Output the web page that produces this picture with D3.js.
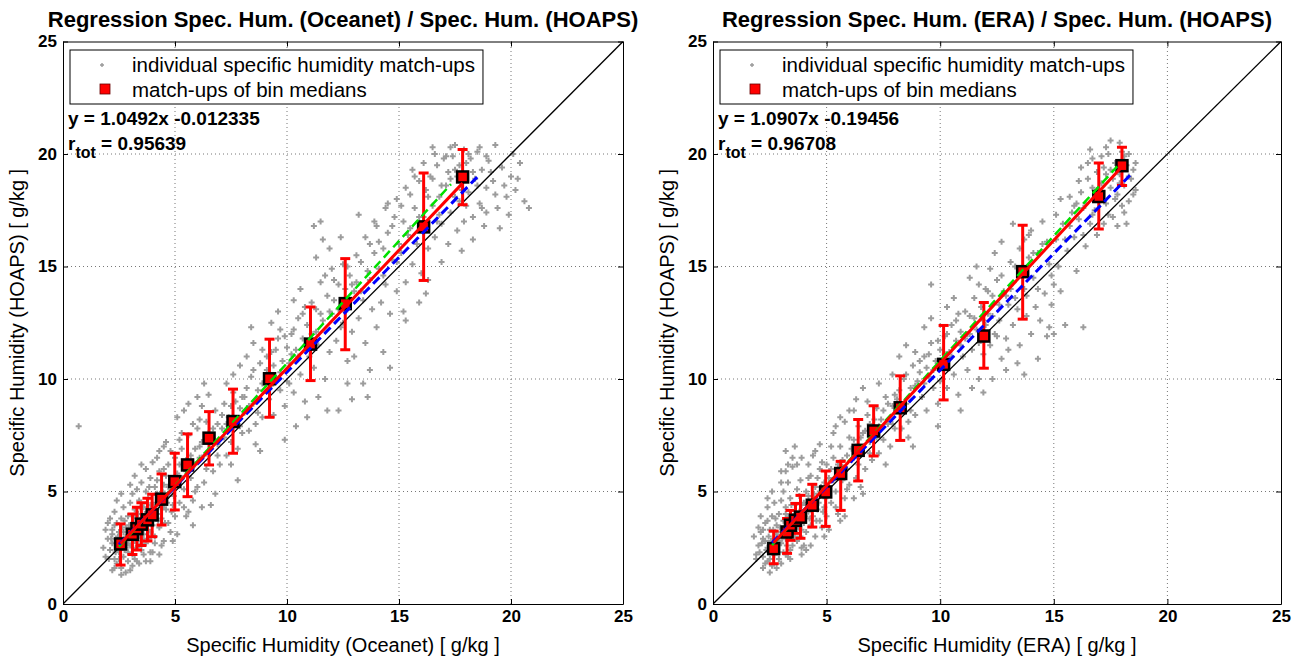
<!DOCTYPE html>
<html>
<head>
<meta charset="utf-8">
<script src="https://cdn.jsdelivr.net/npm/d3@7"></script>
<style>
body { margin: 0; background: #fff; }
text { font-family: "Liberation Sans", Arial, sans-serif; }
</style>
</head>
<body>
<svg id="chart" width="1311" height="661"></svg>
<script>
// tick values (both axes, both panels)
var tickValues = [0, 5, 10, 15, 20, 25];

// --- Oceanet vs HOAPS ---
var oceanetPoints = [
  [2.1,2.4],[2.2,3.1],[2.3,2.0],[2.3,3.5],[2.4,2.7],[2.4,1.8],[2.5,3.2],[2.5,2.3],[2.6,3.8],[2.6,1.6],[2.7,2.9],[2.7,2.1],[2.8,3.4],[2.8,2.5],[2.9,3.9],[2.9,1.9],[3.0,3.1],[3.0,2.6],[2.2,2.7],[2.4,3.6],[2.6,2.6],[2.8,3.0],[2.5,2.0],[2.9,2.3],[2.0,2.9],[1.9,3.3],[2.1,3.8],[2.3,4.1],[2.7,4.3],[2.6,1.3],
  [2.15,2.9],[2.35,2.3],[2.45,3.0],[2.55,2.8],[2.65,3.4],[2.75,2.4],[2.85,2.8],[2.95,3.5],[3.05,2.9],[3.15,3.2],[3.25,2.5],[3.35,4.0],[3.45,3.3],[3.55,3.5],[3.65,4.0],[3.75,3.3],[3.85,2.9],[3.95,4.2],[4.05,3.9],[4.15,4.5],[4.25,3.7],[4.35,4.3],[4.45,5.0],[4.55,3.6],[4.65,4.5],[4.75,5.3],[4.85,4.1],[4.95,4.8],[2.3,1.6],[2.05,2.0],[3.1,4.9],[3.45,4.3],[3.85,5.2],[4.2,5.5],[4.5,6.0],[2.75,3.7],[3.2,2.0],[3.6,2.2],[4.1,2.7],[1.8,2.5],
  [3.1,3.6],[3.1,2.2],[3.2,4.2],[3.2,2.8],[3.3,3.3],[3.3,1.9],[3.4,4.6],[3.4,3.0],[3.5,3.8],[3.5,2.4],[3.6,4.3],[3.6,3.1],[3.7,5.0],[3.7,2.7],[3.8,3.6],[3.8,4.7],[3.9,3.2],[3.9,2.3],[4.0,4.4],[4.0,3.5],[3.2,3.9],[3.4,3.5],[3.6,2.9],[3.8,4.0],[3.0,4.5],[3.3,5.1],[3.5,5.4],[3.9,5.6],[3.7,1.9],[3.1,1.7],[3.4,2.6],[3.6,3.7],
  [4.1,5.2],[4.1,3.0],[4.2,4.0],[4.3,5.9],[4.3,3.4],[4.4,4.7],[4.5,2.8],[4.5,5.3],[4.6,4.2],[4.7,6.2],[4.7,3.6],[4.8,5.0],[4.9,4.4],[5.0,6.5],[5.0,3.9],[4.2,4.9],[4.4,3.8],[4.6,5.7],[4.8,3.2],[4.9,5.5],[4.0,6.3],[4.3,6.8],[4.6,7.2],[4.4,2.6],[4.7,4.8],
  [5.1,5.8],[5.2,4.5],[5.3,6.9],[5.4,5.1],[5.5,3.9],[5.5,6.4],[5.6,7.5],[5.7,5.6],[5.8,4.6],[5.9,6.9],[6.0,5.2],[6.0,7.8],[5.2,6.2],[5.4,4.3],[5.7,6.1],[5.9,5.0],[5.3,7.6],[5.1,8.3],[5.6,4.1],[5.8,8.0],
  [6.1,6.5],[6.2,7.2],[6.3,5.4],[6.4,8.1],[6.5,6.8],[6.6,7.5],[6.7,5.9],[6.8,8.6],[6.9,7.1],[7.0,6.2],[6.2,8.8],[6.5,9.3],[6.8,4.9],[6.4,6.0],[6.9,8.0],[6.1,8.2],[0.7,7.9],
  [7.1,7.8],[7.2,8.9],[7.3,6.6],[7.4,8.3],[7.5,7.2],[7.6,9.4],[7.7,8.0],[7.8,6.9],[7.9,8.7],[8.0,7.6],[7.3,9.8],[7.6,10.2],[7.9,10.6],[7.5,6.2],[7.8,5.5],[7.2,7.4],[8.0,9.2],
  [8.1,8.5],[8.2,9.6],[8.3,7.7],[8.4,10.1],[8.5,8.9],[8.6,7.1],[8.7,9.5],[8.8,10.7],[8.9,8.3],[9.0,9.9],[8.2,11.0],[8.5,11.6],[8.8,6.8],[8.4,12.3],[8.9,11.3],[8.6,8.0],
  [9.1,10.4],[9.2,9.1],[9.3,11.2],[9.4,8.4],[9.5,10.0],[9.6,11.8],[9.7,9.5],[9.8,10.8],[9.9,8.8],[10.0,11.4],[9.3,12.5],[9.6,13.0],[9.9,7.3],[9.4,10.6],[10.0,9.9],[9.7,12.2],
  [10.1,10.7],[10.2,12.0],[10.3,9.4],[10.4,11.3],[10.5,12.7],[10.6,10.2],[10.7,11.8],[10.8,9.0],[10.9,12.4],[11.0,11.0],[10.3,13.5],[10.6,14.0],[10.9,8.3],[10.4,7.9],[10.8,13.2],[10.2,11.1],
  [11.1,12.0],[11.2,10.5],[11.3,13.1],[11.4,11.5],[11.5,14.3],[11.6,12.6],[11.7,10.0],[11.8,13.7],[11.9,11.2],[12.0,12.9],[11.3,15.4],[11.6,16.2],[11.9,15.8],[11.4,9.2],[11.8,8.6],[12.0,14.9],[11.2,16.8],[11.5,17.0],
  [12.1,13.5],[12.2,11.7],[12.3,14.2],[12.4,12.3],[12.5,15.1],[12.6,13.0],[12.7,10.8],[12.8,14.6],[12.9,12.1],[13.0,13.9],[12.4,16.3],[12.7,9.8],[12.9,9.1],[12.3,8.6],[13.0,11.0],[12.6,14.0],
  [13.1,14.3],[13.2,12.7],[13.3,15.2],[13.4,13.5],[13.5,11.6],[13.6,14.8],[13.7,16.0],[13.8,13.1],[13.9,15.6],[14.0,12.3],[13.4,9.8],[13.7,10.4],[14.0,16.8],[13.2,17.3],[13.6,9.2],
  [14.1,14.9],[14.2,13.4],[14.3,15.8],[14.4,14.2],[14.5,16.5],[14.6,12.9],[14.7,15.3],[14.8,17.2],[14.9,13.9],[15.0,16.0],[14.3,11.2],[14.6,10.5],[14.9,18.0],[14.4,17.6],
  [15.1,15.6],[15.2,17.0],[15.3,14.3],[15.4,16.4],[15.5,18.2],[15.6,15.1],[15.7,17.6],[15.8,16.0],[15.9,18.8],[16.0,14.7],[15.3,12.6],[15.6,19.3],[15.9,13.4],[15.2,13.0],
  [16.1,17.2],[16.2,18.4],[16.3,15.8],[16.4,19.0],[16.5,17.7],[16.6,16.3],[16.7,19.5],[16.8,18.1],[16.9,16.9],[17.0,19.8],[16.3,14.4],[16.6,20.0],[16.9,15.2],[16.2,13.8],[16.5,18.9],[16.8,17.3],
  [17.1,18.6],[17.2,19.2],[17.3,17.4],[17.4,19.9],[17.5,18.1],[17.6,16.6],[17.7,19.5],[17.8,18.4],[17.9,20.2],[18.0,17.7],[17.2,16.0],[17.5,20.4],[17.8,15.7],[17.3,18.9],[17.6,19.0],[17.9,17.0],[18.0,19.6],
  [18.1,18.3],[18.2,19.8],[18.3,17.2],[18.4,18.9],[18.5,20.1],[18.6,17.8],[18.7,19.3],[18.8,16.8],[18.9,18.5],[19.0,19.7],[18.3,16.2],[18.6,20.3],[18.9,17.4],
  [19.2,18.8],[19.4,17.6],[19.6,19.4],[19.8,18.1],[20.0,19.0],[20.2,18.4],[20.4,19.6],[20.6,17.9],[20.8,17.6],[19.5,16.7],[20.1,20.0],[19.3,20.4],
  [1.9,2.1],[2.0,3.6],[2.2,1.5],[2.4,4.6],[2.6,4.9],[2.8,1.4],[3.0,5.3],[3.0,1.5],[3.2,5.7],[3.4,1.8],[3.5,6.2],[3.7,6.0],[3.9,1.9],[4.0,2.3],[4.2,6.5],[4.3,2.2],[4.5,7.0],[4.8,6.8],[4.9,2.8],[5.1,3.1],[5.2,7.3],[5.4,8.6],[5.6,8.9],[5.8,3.5],[6.0,9.2],[6.2,4.3],[6.3,9.8],[6.6,4.4],
  [2.2,3.3],[2.4,2.4],[2.7,3.2],[2.9,2.7],[3.1,3.0],[3.3,2.8],[3.5,3.2],[3.7,3.5],[3.9,4.4],[4.1,4.2],[4.3,4.6],[4.5,4.3],[4.7,5.2],[4.9,5.0],[5.1,5.3],[5.3,5.6],[5.5,5.9],[5.7,6.6],[5.9,6.2],[6.1,7.0],[6.3,6.6],[6.5,7.6],[6.7,7.8],[6.9,6.6],
  [7.1,8.4],[7.3,8.0],[7.5,8.8],[7.7,9.0],[7.9,7.9],[8.1,9.2],[8.3,8.8],[8.5,10.4],[8.7,8.5],[8.9,9.8],[9.1,11.0],[9.3,9.7],[9.5,11.3],[9.7,10.3],[9.9,11.9],[10.1,9.8],[10.3,12.2],[10.5,11.0],[10.7,12.9],[10.9,11.6],
  [11.1,13.4],[11.3,12.1],[11.5,12.9],[11.7,14.6],[11.9,13.0],[12.1,14.4],[12.3,13.1],[12.5,12.5],[12.7,15.0],[12.9,14.2],[13.1,15.5],[13.3,13.9],[13.5,16.3],[13.7,14.4],[13.9,17.0],[14.1,16.1],[14.3,14.6],[14.5,17.8],[14.7,16.8],[14.9,15.2],
  [15.1,17.7],[15.3,18.5],[15.5,16.7],[15.7,19.0],[15.9,17.2],[16.1,19.6],[16.3,18.1],[16.5,20.3],[16.7,17.0],[16.9,18.6],[17.1,19.9],[17.3,20.3],[17.5,19.3],[17.7,17.9],[17.9,18.9],[18.1,20.0],[18.3,19.2],[18.5,18.6],[18.7,17.6],[18.9,19.9],[19.1,19.2],[19.3,18.2],[19.7,18.6],[20.3,18.9],[19.9,17.3]
];
var oceanetBinX  = [2.57, 3.1, 3.3, 3.5, 3.77, 3.98, 4.40, 4.99, 5.56, 6.52, 7.59, 9.22, 11.05, 12.6, 16.1, 17.84];
var oceanetBinY  = [2.67, 3.1, 3.35, 3.55, 3.74, 3.96, 4.66, 5.44, 6.18, 7.37, 8.11, 10.01, 11.55, 13.35, 16.76, 18.98];
var oceanetBinLo = [1.73, 2.2, 2.4, 2.6, 2.8, 2.99, 3.51, 4.18, 4.77, 6.18, 6.70, 8.3, 9.93, 11.3, 14.38, 17.75];
var oceanetBinHi = [3.56, 4.0, 4.3, 4.5, 4.7, 4.88, 5.78, 6.70, 7.56, 8.55, 9.55, 11.77, 13.2, 15.35, 19.16, 20.2];
// [slope, intercept, xStart, xEnd]
var oceanetRedFit   = [1.0492, -0.012335, 2.57, 17.84];
var oceanetGreenFit = [1.087, -0.168, 2.5, 17.32];
var oceanetBlueFit  = [1.021, 0.096, 2.5, 18.51];
var oceanetR = "0.95639";

// --- ERA vs HOAPS ---
var eraPoints = [
  [2.0,2.6],[2.1,3.2],[2.2,2.1],[2.3,3.6],[2.3,2.8],[2.4,1.9],[2.5,3.3],[2.5,2.4],[2.6,3.9],[2.6,1.7],[2.7,2.9],[2.7,2.2],[2.8,3.5],[2.8,2.6],[2.9,4.0],[2.9,2.0],[3.0,3.2],[3.0,2.7],[2.2,2.9],[2.4,3.7],[2.6,2.5],[2.8,3.1],[2.5,2.0],[2.9,2.3],[1.9,2.2],[2.1,3.9],[2.4,4.3],[2.7,4.5],[2.5,1.4],[1.8,3.0],
  [2.15,2.7],[2.35,2.4],[2.45,3.0],[2.55,2.8],[2.65,3.3],[2.75,2.5],[2.85,2.9],[2.95,3.4],[3.05,2.9],[3.15,3.2],[3.25,2.6],[3.35,3.9],[3.45,3.3],[3.55,3.5],[3.65,4.0],[3.75,3.4],[3.85,3.0],[3.95,4.1],[4.05,3.9],[4.15,4.4],[4.25,3.8],[4.35,4.2],[4.45,4.9],[4.55,3.7],[4.65,4.5],[4.75,5.2],[4.85,4.1],[4.95,4.7],[2.3,1.8],[2.05,2.3],[3.1,5.0],[3.45,4.4],[3.85,5.5],[4.2,5.6],[2.75,3.8],[3.2,2.2],[3.0,5.9],[3.3,6.2],
  [3.1,3.7],[3.1,2.3],[3.2,4.3],[3.2,2.9],[3.3,3.4],[3.3,2.1],[3.4,4.7],[3.4,3.0],[3.5,3.9],[3.5,2.6],[3.6,4.4],[3.6,3.2],[3.7,5.1],[3.7,2.8],[3.8,3.7],[3.8,4.8],[3.9,3.3],[3.9,2.5],[4.0,4.5],[4.0,3.6],[3.2,4.0],[3.4,3.6],[3.6,3.0],[3.8,4.1],[3.0,4.6],[3.3,5.4],[3.5,6.1],[3.9,6.5],[3.2,6.8],[3.6,7.0],[3.4,2.4],
  [4.1,5.0],[4.1,3.2],[4.2,4.1],[4.3,5.7],[4.3,3.5],[4.4,4.6],[4.5,3.0],[4.5,5.2],[4.6,4.2],[4.7,6.0],[4.7,3.7],[4.8,4.9],[4.9,4.3],[5.0,6.2],[5.0,3.9],[4.2,4.8],[4.4,3.9],[4.6,5.6],[4.8,3.4],[4.9,5.4],[4.4,6.6],[4.1,2.4],[4.7,7.1],
  [5.1,5.6],[5.2,4.5],[5.3,6.5],[5.4,5.0],[5.5,4.0],[5.5,6.2],[5.6,7.0],[5.7,5.5],[5.8,4.7],[5.9,6.6],[6.0,5.3],[6.0,7.4],[5.2,6.0],[5.4,4.3],[5.7,6.1],[5.9,5.1],[5.3,7.6],[5.6,3.7],[5.8,8.1],
  [6.1,6.4],[6.2,7.3],[6.3,5.6],[6.4,7.9],[6.5,6.8],[6.6,7.6],[6.7,6.0],[6.8,8.4],[6.9,7.2],[7.0,6.4],[6.2,8.6],[6.5,5.2],[6.8,9.0],[6.4,6.2],[6.9,8.0],[6.6,9.6],
  [7.1,7.7],[7.2,8.7],[7.3,6.7],[7.4,8.2],[7.5,7.3],[7.6,9.2],[7.7,8.0],[7.8,7.0],[7.9,8.8],[8.0,7.8],[7.3,9.8],[7.6,6.2],[7.9,10.2],[7.2,7.4],[8.0,9.3],
  [8.1,8.6],[8.2,9.5],[8.3,7.8],[8.4,10.0],[8.5,8.9],[8.6,7.4],[8.7,9.6],[8.8,10.6],[8.9,8.4],[9.0,9.9],[8.2,11.0],[8.5,11.5],[8.8,7.0],[8.9,11.2],[8.6,8.1],
  [9.1,10.3],[9.2,9.2],[9.3,11.0],[9.4,8.6],[9.5,10.1],[9.6,11.6],[9.7,9.6],[9.8,10.8],[9.9,8.9],[10.0,11.3],[9.3,12.3],[9.6,12.7],[9.9,7.9],[9.4,10.5],[10.0,9.9],
  [10.1,10.8],[10.2,11.9],[10.3,9.6],[10.4,11.2],[10.5,12.4],[10.6,10.2],[10.7,11.7],[10.8,9.3],[10.9,12.1],[11.0,11.0],[10.3,13.2],[10.6,13.6],[10.9,8.6],[10.8,12.9],[10.2,11.1],[9.6,14.2],
  [11.1,11.8],[11.2,10.4],[11.3,12.8],[11.4,11.3],[11.5,13.6],[11.6,12.2],[11.7,10.0],[11.8,13.2],[11.9,11.1],[12.0,12.4],[11.3,14.5],[11.6,15.0],[11.9,9.4],[11.4,9.6],[12.0,14.0],[11.2,12.0],[11.7,11.6],
  [12.1,12.9],[12.2,11.5],[12.3,13.7],[12.4,12.0],[12.5,14.4],[12.6,12.6],[12.7,10.9],[12.8,13.9],[12.9,11.8],[13.0,13.3],[12.4,15.6],[12.7,16.1],[12.9,10.4],[12.3,10.0],[13.0,11.3],[12.6,13.3],[12.2,14.9],
  [13.1,14.0],[13.2,12.4],[13.3,15.0],[13.4,13.1],[13.5,11.5],[13.6,14.6],[13.7,16.2],[13.8,12.8],[13.9,15.4],[14.0,12.0],[13.4,10.7],[13.7,10.2],[14.0,16.6],[13.2,16.9],[13.8,13.7],
  [14.1,14.5],[14.2,13.2],[14.3,15.6],[14.4,12.6],[14.5,16.0],[14.6,13.8],[14.7,11.9],[14.8,15.1],[14.9,13.3],[15.0,14.2],[14.3,10.9],[14.8,12.3],[15.0,12.0],
  [15.1,16.2],[15.2,15.0],[15.4,16.9],[15.6,15.7],[15.8,17.4],[15.9,16.3],[16.0,14.8],[15.3,13.9],[15.7,18.1],[16.0,17.8],[15.5,12.4],[16.3,12.3],
  [16.1,17.1],[16.2,18.3],[16.3,16.4],[16.4,17.8],[16.5,18.9],[16.6,16.9],[16.7,18.5],[16.8,17.5],[16.9,19.2],[17.0,18.0],[16.4,15.9],[16.7,19.8],[16.9,16.4],[16.2,19.4],
  [17.1,18.7],[17.2,19.4],[17.3,17.8],[17.4,20.0],[17.5,18.5],[17.6,17.2],[17.7,19.6],[17.8,18.2],[17.9,20.5],[18.0,17.7],[17.2,16.9],[17.5,20.6],[17.8,16.8],[17.3,19.1],[17.6,18.9],[17.9,19.1],[18.0,20.1],
  [18.1,18.6],[18.2,19.5],[18.3,17.9],[18.4,18.9],[18.5,19.3],[18.1,17.4],[18.3,20.0],[18.6,18.4],[18.2,16.9],
  [1.9,2.0],[2.0,3.4],[2.2,1.6],[2.4,4.7],[2.6,5.0],[2.8,1.6],[3.0,5.4],[3.0,1.8],[3.2,5.9],[3.4,2.0],[3.5,6.5],[3.7,6.2],[3.9,2.2],[4.0,2.6],[4.2,6.2],[4.3,2.6],[4.5,6.8],[4.8,6.3],[4.9,3.0],[5.1,3.3],[5.2,7.0],[5.4,7.9],[5.6,8.3],[5.8,3.9],[6.0,8.6],[6.2,4.7],[6.3,9.1],[6.6,4.9],
  [2.2,3.3],[2.4,2.5],[2.7,3.2],[2.9,2.8],[3.1,3.0],[3.3,2.9],[3.5,3.1],[3.7,3.6],[3.9,4.4],[4.1,4.1],[4.3,4.5],[4.5,4.4],[4.7,5.0],[4.9,4.9],[5.1,5.2],[5.3,5.5],[5.5,5.8],[5.7,6.4],[5.9,6.0],[6.1,6.9],[6.3,6.6],[6.5,7.4],[6.7,7.7],[6.9,6.7],
  [7.1,8.2],[7.3,7.9],[7.5,8.6],[7.7,8.9],[7.9,8.0],[8.1,9.1],[8.3,8.8],[8.5,10.2],[8.7,8.6],[8.9,9.7],[9.1,10.8],[9.3,9.8],[9.5,11.1],[9.7,10.4],[9.9,11.7],[10.1,10.0],[10.3,12.0],[10.5,11.0],[10.7,12.6],[10.9,11.5],
  [11.1,13.0],[11.3,12.0],[11.5,12.7],[11.7,14.2],[11.9,12.6],[12.1,13.9],[12.3,12.8],[12.5,11.9],[12.7,14.6],[12.9,13.7],[13.1,15.2],[13.3,13.6],[13.5,15.8],[13.7,14.0],[13.9,16.4],[14.1,15.6],[14.3,14.0],[14.5,17.0],[14.7,16.1],[14.9,14.6],
  [15.1,17.3],[15.3,18.0],[15.5,16.2],[15.7,16.8],[15.9,17.7],[16.1,18.8],[16.3,17.6],[16.5,19.6],[16.7,17.3],[16.9,18.4],[17.1,19.9],[17.3,20.3],[17.5,19.3],[17.7,18.0],[17.9,18.7],[18.1,19.9],[18.3,19.0],[18.5,18.2],[18.6,19.6],[17.4,17.3],[16.6,20.2]
];
var eraBinX  = [2.67, 3.26, 3.41, 3.63, 3.85, 4.37, 4.96, 5.62, 6.39, 7.07, 8.24, 10.15, 11.92, 13.63, 16.98, 18.0];
var eraBinY  = [2.46, 3.2, 3.5, 3.72, 3.86, 4.39, 4.98, 5.80, 6.83, 7.69, 8.72, 10.65, 11.91, 14.77, 18.11, 19.48];
var eraBinLo = [1.79, 2.25, 2.83, 3.14, 2.92, 3.42, 3.45, 4.16, 5.47, 6.58, 7.27, 9.07, 10.48, 12.66, 16.67, 18.6];
var eraBinHi = [3.24, 3.8, 4.16, 4.47, 4.83, 5.32, 5.91, 6.34, 8.2, 8.81, 10.14, 12.38, 13.4, 16.83, 19.6, 20.3];
var eraRedFit   = [1.0907, -0.19456, 2.67, 18.0];
var eraGreenFit = [1.108, -0.263, 2.6, 17.79];
var eraBlueFit  = [1.037, 0.024, 2.6, 18.45];
var eraR = "0.96708";

var svg = d3.select("#chart");
var yTop = 41.5, yBottom = 604;

function drawPanel(cfg) {
  var x = d3.scaleLinear().domain([0, 25]).range(cfg.xRange);
  var y = d3.scaleLinear().domain([0, 25]).range([yBottom, yTop]);
  var g = svg.append("g");
  var clipId = "clip" + cfg.id;

  g.append("clipPath").attr("id", clipId).append("rect")
      .attr("x", x(0)).attr("y", y(25))
      .attr("width", x(25) - x(0)).attr("height", y(0) - y(25));

  // dotted grid
  var inner = tickValues.slice(1, -1);
  g.selectAll("line.gx").data(inner).enter().append("line")
      .attr("x1", x).attr("x2", x).attr("y1", y(0)).attr("y2", y(25))
      .attr("stroke", "#777").attr("stroke-dasharray", "1,3");
  g.selectAll("line.gy").data(inner).enter().append("line")
      .attr("y1", y).attr("y2", y).attr("x1", x(0)).attr("x2", x(25))
      .attr("stroke", "#777").attr("stroke-dasharray", "1,3");

  var plot = g.append("g").attr("clip-path", "url(#" + clipId + ")");

  // individual match-ups
  plot.append("path")
      .attr("d", cfg.points.map(function (p) {
        var px = x(p[0]), py = y(p[1]);
        return "M" + (px - 3) + "," + py + "h6M" + px + "," + (py - 3) + "v6";
      }).join(""))
      .attr("stroke", "#9c9c9c").attr("stroke-width", 2).attr("fill", "none");

  // 1:1 line
  plot.append("line")
      .attr("x1", x(0)).attr("y1", y(0)).attr("x2", x(25)).attr("y2", y(25))
      .attr("stroke", "#000").attr("stroke-width", 1.3);

  // error bars
  var bins = cfg.binX.map(function (bx, i) {
    return { x: bx, y: cfg.binY[i], lo: cfg.binLo[i], hi: cfg.binHi[i] };
  });
  var eb = plot.append("g").attr("stroke", "#f00").attr("stroke-width", 3);
  bins.forEach(function (d) {
    eb.append("line").attr("x1", x(d.x)).attr("x2", x(d.x)).attr("y1", y(d.lo)).attr("y2", y(d.hi));
    eb.append("line").attr("x1", x(d.x) - 5).attr("x2", x(d.x) + 5).attr("y1", y(d.lo)).attr("y2", y(d.lo));
    eb.append("line").attr("x1", x(d.x) - 5).attr("x2", x(d.x) + 5).attr("y1", y(d.hi)).attr("y2", y(d.hi));
  });

  plot.selectAll("rect.bin").data(bins).enter().append("rect")
      .attr("x", function (d) { return x(d.x) - 5.5; })
      .attr("y", function (d) { return y(d.y) - 5.5; })
      .attr("width", 11).attr("height", 11)
      .attr("fill", "#f00").attr("stroke", "#000").attr("stroke-width", 2.5);

  function fitLine(f, color, width, dash) {
    plot.append("line")
        .attr("x1", x(f[2])).attr("y1", y(f[0] * f[2] + f[1]))
        .attr("x2", x(f[3])).attr("y2", y(f[0] * f[3] + f[1]))
        .attr("stroke", color).attr("stroke-width", width)
        .attr("stroke-dasharray", dash);
  }
  fitLine(cfg.green, "#00e000", 2.5, "9,5");
  fitLine(cfg.blue, "#0000ff", 3, "9,5");
  fitLine(cfg.red, "#ff0000", 3, null);

  // axes with inward ticks on all sides
  function styleAxis(a) {
    a.select(".domain").attr("stroke", "#000");
    a.selectAll(".tick line").attr("stroke", "#000");
    a.selectAll("text").attr("font-size", 17).attr("font-weight", "bold")
        .attr("font-family", "Liberation Sans, Arial, sans-serif").attr("fill", "#000");
  }
  g.append("g").attr("transform", "translate(0," + y(0) + ")")
      .call(d3.axisBottom(x).tickValues(tickValues).tickSize(-5).tickSizeOuter(0).tickPadding(6))
      .call(styleAxis);
  g.append("g").attr("transform", "translate(0," + y(25) + ")")
      .call(d3.axisTop(x).tickValues(tickValues).tickSize(-5).tickSizeOuter(0).tickFormat(""))
      .call(styleAxis);
  g.append("g").attr("transform", "translate(" + x(0) + ",0)")
      .call(d3.axisLeft(y).tickValues(tickValues).tickSize(-5).tickSizeOuter(0).tickPadding(6))
      .call(styleAxis);
  g.append("g").attr("transform", "translate(" + x(25) + ",0)")
      .call(d3.axisRight(y).tickValues(tickValues).tickSize(-5).tickSizeOuter(0).tickFormat(""))
      .call(styleAxis);

  // legend
  var lx = x(0) + 7;
  var leg = g.append("g");
  var box = leg.append("rect").attr("x", lx).attr("y", 50).attr("height", 54)
      .attr("fill", "#fff").attr("stroke", "#000").attr("stroke-width", 1);
  var t1 = leg.append("text").attr("x", lx + 62).attr("y", 72).attr("font-size", 20.5)
      .text("individual specific humidity match-ups");
  leg.append("text").attr("x", lx + 62).attr("y", 97).attr("font-size", 20.5)
      .text("match-ups of bin medians");
  leg.append("path").attr("d", "M" + (lx + 30) + ",65h4M" + (lx + 32) + ",63v4")
      .attr("stroke", "#999").attr("stroke-width", 1.4);
  leg.append("rect").attr("x", lx + 30).attr("y", 84).attr("width", 10).attr("height", 10)
      .attr("fill", "#f00").attr("stroke", "#600").attr("stroke-width", 0.8);
  box.attr("width", t1.node().getComputedTextLength() + 70);

  // regression text
  g.append("text").attr("x", x(0) + 5).attr("y", 125).attr("font-size", 19)
      .attr("font-weight", "bold")
      .text("y = " + cfg.red[0] + "x " + cfg.red[1]);
  var rt = g.append("text").attr("x", x(0) + 5).attr("y", 150).attr("font-size", 19)
      .attr("font-weight", "bold");
  rt.append("tspan").text("r");
  rt.append("tspan").attr("font-size", 16).attr("dy", 8).text("tot");
  rt.append("tspan").attr("dy", -8).text(" = " + cfg.r);

  // title and labels
  var cx = (x(0) + x(25)) / 2;
  g.append("text").attr("x", cx).attr("y", 27).attr("text-anchor", "middle")
      .attr("font-size", 22).attr("font-weight", "bold").text(cfg.title);
  g.append("text").attr("x", cx).attr("y", 652).attr("text-anchor", "middle")
      .attr("font-size", 20).text(cfg.xLabel);
  g.append("text").attr("transform", "translate(" + (x(0) - 39) + "," + ((y(0) + y(25)) / 2) + ") rotate(-90)")
      .attr("text-anchor", "middle").attr("font-size", 20).text(cfg.yLabel);
}

drawPanel({
  id: "L", xRange: [63, 623],
  title: "Regression Spec. Hum. (Oceanet) / Spec. Hum. (HOAPS)",
  xLabel: "Specific Humidity (Oceanet) [ g/kg ]",
  yLabel: "Specific Humidity (HOAPS) [ g/kg ]",
  points: oceanetPoints, binX: oceanetBinX, binY: oceanetBinY, binLo: oceanetBinLo, binHi: oceanetBinHi,
  red: oceanetRedFit, green: oceanetGreenFit, blue: oceanetBlueFit, r: oceanetR
});
drawPanel({
  id: "R", xRange: [713, 1281],
  title: "Regression Spec. Hum. (ERA) / Spec. Hum. (HOAPS)",
  xLabel: "Specific Humidity (ERA) [ g/kg ]",
  yLabel: "Specific Humidity (HOAPS) [ g/kg ]",
  points: eraPoints, binX: eraBinX, binY: eraBinY, binLo: eraBinLo, binHi: eraBinHi,
  red: eraRedFit, green: eraGreenFit, blue: eraBlueFit, r: eraR
});
</script>
</body>
</html>
